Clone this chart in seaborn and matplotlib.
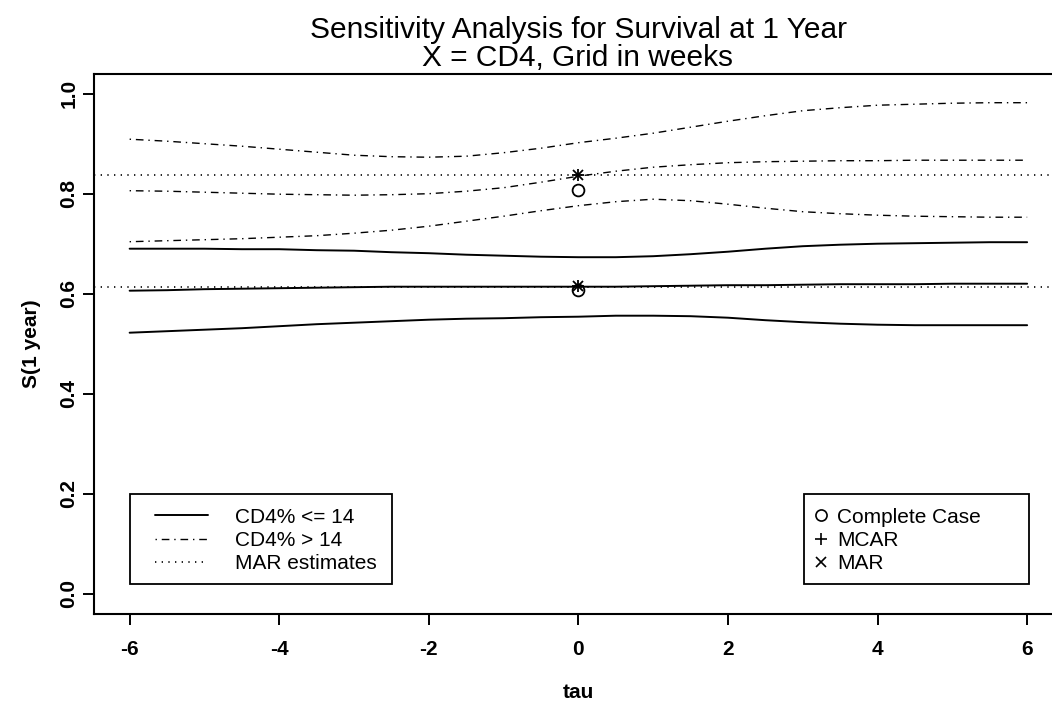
import numpy as np
import pandas as pd
import matplotlib
matplotlib.use("Agg")
import matplotlib.pyplot as plt
from matplotlib.lines import Line2D
from matplotlib.patches import Rectangle
import seaborn as sns

# ---------------- data ----------------
tau = [-6, -5.5, -5, -4.5, -4, -3.5, -3, -2.5, -2, -1.5, -1, -0.5, 0,
       0.5, 1, 1.5, 2, 2.5, 3, 3.5, 4, 4.5, 5, 5.5, 6]

low_upper = [.690, .690, .690, .689, .689, .687, .686, .683, .681, .678, .676, .674, .673,
             .673, .675, .679, .684, .690, .695, .698, .700, .701, .702, .703, .703]
low_mid = [.606, .607, .609, .610, .611, .612, .613, .614, .614, .614, .614, .614, .614,
           .614, .615, .616, .617, .617, .618, .619, .619, .619, .620, .620, .620]
low_lower = [.522, .525, .528, .531, .535, .539, .542, .545, .548, .550, .551, .553, .554,
             .556, .556, .555, .552, .547, .543, .540, .538, .537, .537, .537, .537]

high_upper = [.909, .905, .900, .895, .889, .883, .877, .874, .873, .875, .882, .891, .902,
              .911, .921, .933, .945, .956, .966, .972, .977, .979, .981, .982, .982]
high_mid = [.806, .805, .803, .801, .799, .798, .797, .798, .800, .805, .812, .823, .835,
            .845, .853, .858, .862, .864, .865, .866, .866, .867, .867, .867, .867]
high_lower = [.704, .706, .708, .710, .713, .716, .721, .727, .735, .745, .755, .766, .776,
              .784, .789, .786, .779, .771, .764, .760, .757, .755, .754, .753, .753]

mar_estimates = [0.838, 0.613]

point_tau = [0, 0]
complete_case = [0.808, 0.607]
mcar = [0.838, 0.615]
mar = [0.838, 0.615]

x_ticks = [-6, -4, -2, 0, 2, 4, 6]
y_ticks = [0.0, 0.2, 0.4, 0.6, 0.8, 1.0]
y_ticklabels = ["0.0", "0.2", "0.4", "0.6", "0.8", "1.0"]

legend_lines = ["CD4% <= 14", "CD4% > 14", "MAR estimates"]
legend_points = ["Complete Case", "MCAR", "MAR"]

# ---------------- style ----------------
sns.set_theme(style="ticks")
plt.rcParams["font.family"] = ["Liberation Sans", "DejaVu Sans"]
plt.rcParams["text.color"] = "black"
plt.rcParams["axes.labelcolor"] = "black"
plt.rcParams["xtick.color"] = "black"
plt.rcParams["ytick.color"] = "black"

FS = 15

fig = plt.figure(figsize=(10.52, 7.02), dpi=100)
ax = fig.add_axes([0.0891, 0.1258, 0.9214, 0.7692])

dashdot = (0, (1, 3.5, 5.5, 3.5))
dotted = (0, (0.8, 3.2))

df_low = pd.DataFrame({"tau": tau, "a": low_upper, "b": low_mid, "c": low_lower})
df_high = pd.DataFrame({"tau": tau, "a": high_upper, "b": high_mid, "c": high_lower})

for col in ["a", "b", "c"]:
    sns.lineplot(data=df_low, x="tau", y=col, ax=ax, color="black", linewidth=1.4,
                 linestyle="-", legend=False)
    sns.lineplot(data=df_high, x="tau", y=col, ax=ax, color="black", linewidth=1.0,
                 linestyle=dashdot, legend=False)

for v in mar_estimates:
    ax.axhline(v, color="black", linewidth=1.2, linestyle=dotted)

ax.plot(point_tau, complete_case, linestyle="none", marker="o", markersize=8.5,
        markerfacecolor="none", markeredgecolor="black", markeredgewidth=1.3)
ax.plot(point_tau, mcar, linestyle="none", marker="+", markersize=9,
        color="black", markeredgewidth=1.3)
ax.plot(point_tau, mar, linestyle="none", marker="x", markersize=7,
        color="black", markeredgewidth=1.3)

ax.set_xlim(-6.48, 6.48)
ax.set_ylim(-0.04, 1.04)
ax.set_xticks(x_ticks)
ax.set_xticklabels([str(t) for t in x_ticks], fontsize=FS, fontweight="bold")
ax.set_yticks(y_ticks)
ax.set_yticklabels(y_ticklabels, fontsize=FS, fontweight="bold", rotation=90,
                   va="center")
ax.tick_params(axis="both", direction="out", length=8, width=1.4, color="black")
ax.tick_params(axis="x", pad=11)
ax.tick_params(axis="y", pad=3)
for s in ax.spines.values():
    s.set_visible(True)
    s.set_linewidth(1.5)
    s.set_color("black")

ax.set_xlabel("tau", fontsize=FS, fontweight="bold", labelpad=17)
ax.set_ylabel("S(1 year)", fontsize=FS, fontweight="bold", labelpad=13)

fig.text(578 / 1052, 1 - 30 / 702, "Sensitivity Analysis for Survival at 1 Year",
         ha="center", va="center", fontsize=21.5)
fig.text(578 / 1052, 1 - 58 / 702, "X = CD4, Grid in weeks",
         ha="center", va="center", fontsize=21.5)

# legend frames (R-style boxes)
box_bottom = 0.0186
ax.add_patch(Rectangle((-6, box_bottom), 3.51, 0.2 - box_bottom, fill=False,
                       edgecolor="black", linewidth=1.3, zorder=4))
ax.add_patch(Rectangle((3.01, box_bottom), 3.02, 0.2 - box_bottom, fill=False,
                       edgecolor="black", linewidth=1.3, zorder=4))

h1 = [Line2D([], [], color="black", linewidth=1.4, linestyle="-"),
      Line2D([], [], color="black", linewidth=1.0, linestyle=dashdot),
      Line2D([], [], color="black", linewidth=1.2, linestyle=dotted)]
leg1 = ax.legend(h1, legend_lines, loc="upper left", bbox_to_anchor=(-5.655, 0.172),
                 bbox_transform=ax.transData, borderaxespad=0, borderpad=0,
                 fontsize=FS, frameon=False, handlelength=2.5, handletextpad=1.3,
                 labelspacing=0.2)
ax.add_artist(leg1)

h2 = [Line2D([], [], linestyle="none", marker="o", markersize=8, markerfacecolor="none",
             markeredgecolor="black", markeredgewidth=1.2),
      Line2D([], [], linestyle="none", marker="+", markersize=9, color="black",
             markeredgewidth=1.2),
      Line2D([], [], linestyle="none", marker="x", markersize=7, color="black",
             markeredgewidth=1.2)]
leg2 = ax.legend(h2, legend_points, loc="upper left", bbox_to_anchor=(3.128, 0.172),
                 bbox_transform=ax.transData, borderaxespad=0, borderpad=0,
                 fontsize=FS, frameon=False, handlelength=0.8, handletextpad=0.4,
                 labelspacing=0.2)

fig.savefig("out.png", dpi=100)
